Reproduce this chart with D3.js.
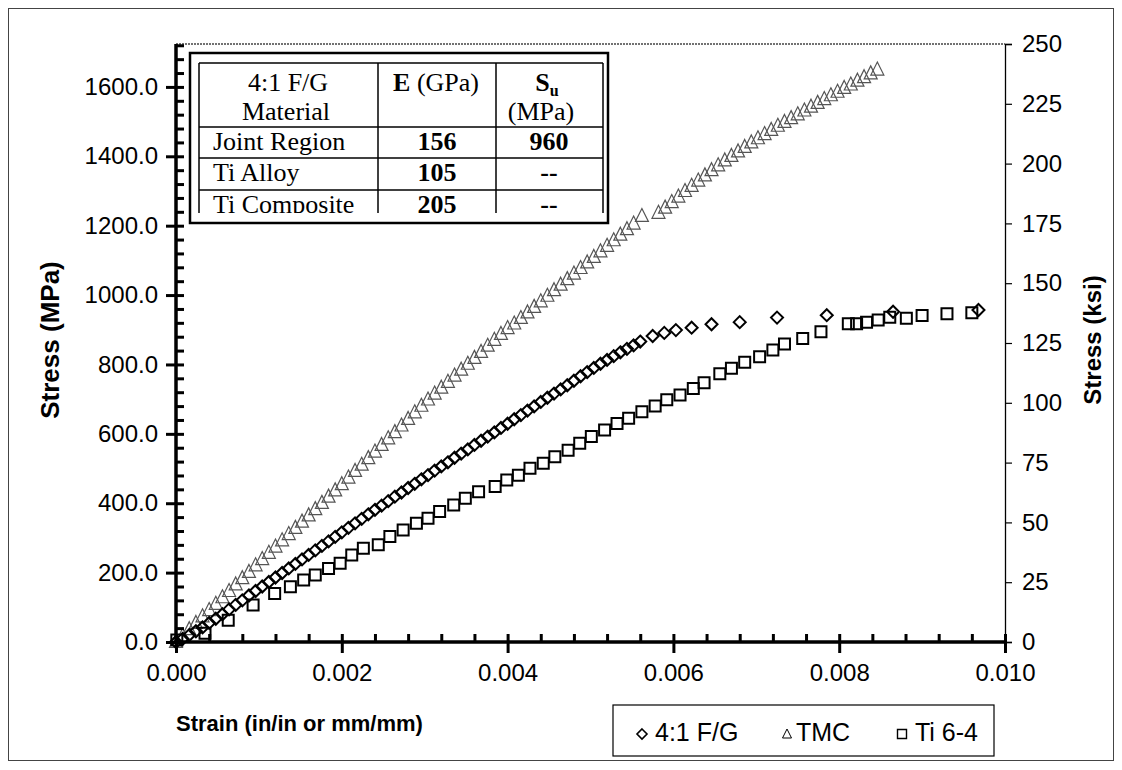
<!DOCTYPE html>
<html><head><meta charset="utf-8">
<script src="https://cdn.jsdelivr.net/npm/d3@7"></script>
<style>body{margin:0;background:#fff}svg{display:block}</style>
</head><body>
<svg id="c" width="1122" height="770"></svg>
<script>
// ---- data (strain in/in, stress MPa) ----
const fgStrain=[0,0.00008,0.00016,0.00024,0.00032,0.00040,0.00048,0.00056,0.00064,0.00072,0.00080,0.00088,0.00096,0.00104,0.00112,0.00120,0.00128,0.00136,0.00144,0.00152,0.00160,0.00168,0.00176,0.00184,0.00192,0.00200,0.00208,0.00216,0.00224,0.00232,0.00240,0.00248,0.00256,0.00264,0.00272,0.00280,0.00288,0.00296,0.00304,0.00312,0.00320,0.00328,0.00336,0.00344,0.00352,0.00360,0.00368,0.00376,0.00384,0.00392,0.00400,0.00408,0.00416,0.00424,0.00432,0.00440,0.00448,0.00456,0.00464,0.00472,0.00480,0.00488,0.00496,0.00504,0.00512,0.00520,0.00528,0.00536,0.00544,0.00552,0.00560,0.00575,0.00589,0.00603,0.00622,0.00646,0.00680,0.00725,0.00785,0.00865,0.00968];
const fgStress=[0,9,20,31,42,55,67,80,94,107,120,134,147,160,173,186,199,212,225,238,251,264,277,290,303,316,329,342,355,368,381,393,406,419,431,444,456,469,481,494,506,518,531,543,555,568,580,592,604,617,629,642,654,667,679,692,704,716,728,740,753,766,778,790,802,813,824,835,845,855,866,882,891,899,906,916,922,935,942,952,957];

const tmcStrain=[0,0.00008,0.00016,0.00024,0.00032,0.00040,0.00048,0.00056,0.00064,0.00072,0.00080,0.00088,0.00096,0.00104,0.00112,0.00120,0.00128,0.00136,0.00144,0.00152,0.00160,0.00168,0.00176,0.00184,0.00192,0.00200,0.00208,0.00216,0.00224,0.00232,0.00240,0.00248,0.00256,0.00264,0.00272,0.00280,0.00288,0.00296,0.00304,0.00312,0.00320,0.00328,0.00336,0.00344,0.00352,0.00360,0.00368,0.00376,0.00384,0.00392,0.00400,0.00408,0.00416,0.00424,0.00432,0.00440,0.00448,0.00456,0.00464,0.00472,0.00480,0.00488,0.00496,0.00504,0.00512,0.00520,0.00528,0.00536,0.00544,0.00552,0.00562,
0.00582,0.00590,0.00598,0.00606,0.00614,0.00622,0.00630,0.00638,0.00646,0.00654,0.00662,0.00670,0.00678,0.00686,0.00694,0.00702,0.00710,0.00718,0.00726,0.00734,0.00742,0.00750,0.00758,0.00766,0.00774,0.00782,0.00790,0.00798,0.00806,0.00814,0.00822,0.00830,0.00838,0.00846];
const tmcStress=[0,18,37,55,74,92,110,129,147,166,184,202,221,239,257,275,293,311,329,347,365,383,401,419,437,455,474,493,511,530,549,568,587,605,624,643,662,681,699,716,733,750,768,785,802,819,836,854,871,888,905,918,934,950,966,982,998,1014,1030,1046,1062,1078,1094,1110,1126,1142,1158,1174,1190,1206,1228,
1237,1252,1268,1284,1300,1315,1330,1345,1360,1374,1388,1401,1414,1427,1440,1452,1464,1476,1488,1499,1510,1521,1532,1543,1554,1565,1576,1586,1597,1607,1618,1628,1639,1650];

const tiStrain=[0.00001,0.00035,0.00063,0.00093,0.00119,0.00138,0.00154,0.00168,0.00184,0.00198,0.00212,0.00226,0.00244,0.00258,0.00274,0.00290,0.00304,0.00318,0.00335,0.00349,0.00365,0.00385,0.00399,0.00413,0.00427,0.00443,0.00457,0.00473,0.00487,0.00501,0.00517,0.00532,0.00546,0.00562,0.00578,0.00592,0.00608,0.00624,0.00637,0.00656,0.00670,0.00686,0.00704,0.00720,0.00734,0.00756,0.00778,0.00811,0.00821,0.00833,0.00847,0.00861,0.00881,0.00900,0.00930,0.00960];
const tiStress=[6,25,63,107,140,159,179,193,212,227,251,270,280,304,323,342,357,376,395,414,433,448,467,481,501,515,534,553,573,592,611,630,645,664,680,698,712,731,747,773,789,806,822,842,859,875,894,917,917,922,928,936,933,941,946,949];

const seriesNames=["4:1 F/G","TMC","Ti 6-4"];
const strainTicks=[0,0.002,0.004,0.006,0.008,0.010];
const mpaTicks=[0,200,400,600,800,1000,1200,1400,1600];
const ksiTicks=[0,25,50,75,100,125,150,175,200,225,250];
const tableHead=[["4:1 F/G","Material"],["E"," (GPa)"],["S","u","(MPa)"]];
const tableRows=[["Joint Region","156","960"],["Ti Alloy","105","--"],["Ti Composite","205","--"]];

// ---- drawing ----
const svg=d3.select("#c");
const SANS="'Liberation Sans', Arial, sans-serif";
const SERIF="'Liberation Serif', 'Times New Roman', serif";
const KSI=6.894757;
const x=d3.scaleLinear().domain([0,0.010]).range([176,1005]);
const y=d3.scaleLinear().domain([0,250*KSI]).range([642,44]);
const yk=d3.scaleLinear().domain([0,250]).range([642,44]);

svg.append("rect").attr("width",1122).attr("height",770).attr("fill","#fff");
svg.append("rect").attr("x",8.5).attr("y",8.5).attr("width",1105).attr("height",752)
  .attr("fill","none").attr("stroke","#444").attr("stroke-width",1);

svg.append("line").attr("x1",x(0)).attr("x2",x(0.01)).attr("y1",y(250*KSI)).attr("y2",y(250*KSI))
  .attr("stroke","#444").attr("stroke-width",1.5).attr("stroke-dasharray","2,1");

const diamond="M0,-6L6,0L0,6L-6,0Z";
const square="M-5.5,-5.5H5.5V5.5H-5.5Z";
const tri="M0,-7.5L6.5,5.5H-6.5Z";

const g=svg.append("g");
g.selectAll("path.tmc").data(d3.range(tmcStrain.length)).join("path").attr("class","tmc")
  .attr("d",tri).attr("transform",i=>`translate(${x(tmcStrain[i])},${y(tmcStress[i])})`)
  .attr("fill","none").attr("stroke","#555").attr("stroke-width",1.2);
g.selectAll("path.ti").data(d3.range(tiStrain.length)).join("path").attr("class","ti")
  .attr("d",square).attr("transform",i=>`translate(${x(tiStrain[i])},${y(tiStress[i])})`)
  .attr("fill","none").attr("stroke","#000").attr("stroke-width",2);
g.selectAll("path.fg").data(d3.range(fgStrain.length)).join("path").attr("class","fg")
  .attr("d",diamond).attr("transform",i=>`translate(${x(fgStrain[i])},${y(fgStress[i])})`)
  .attr("fill","none").attr("stroke","#000").attr("stroke-width",2);

function styleAxis(sel,fs){
  sel.selectAll("text").attr("font-family",SANS).attr("font-size",fs).attr("fill","#000");
}
const la=svg.append("g").attr("transform","translate(176,0)")
  .call(d3.axisLeft(y).tickValues(mpaTicks).tickFormat(d3.format(".1f")).tickSize(10).tickPadding(8));
la.select(".domain").remove();
la.selectAll("line").attr("stroke-width",3);
styleAxis(la,24);
const minorMpa=d3.range(0,1721,40);
const lin=svg.append("g").attr("transform","translate(176,0)")
  .call(d3.axisRight(y).tickValues(minorMpa).tickSize(8).tickFormat(""));
lin.select(".domain").remove();
lin.selectAll("line").attr("stroke-width",3);
svg.append("line").attr("x1",176).attr("x2",176).attr("y1",44).attr("y2",644)
  .attr("stroke","#000").attr("stroke-width",3.5);

const ba=svg.append("g").attr("transform","translate(0,642)")
  .call(d3.axisBottom(x).tickValues(strainTicks).tickFormat(d3.format(".3f")).tickSize(11).tickPadding(11));
ba.select(".domain").remove();
ba.selectAll("line").attr("stroke-width",3);
styleAxis(ba,24);
const minorStrain=d3.range(0,0.01001,0.0004);
const bin=svg.append("g").attr("transform","translate(0,642)")
  .call(d3.axisTop(x).tickValues(minorStrain).tickSize(8).tickFormat(""));
bin.select(".domain").remove();
bin.selectAll("line").attr("stroke-width",3);
svg.append("line").attr("x1",174).attr("x2",1006).attr("y1",642).attr("y2",642)
  .attr("stroke","#000").attr("stroke-width",3.5);

const ra=svg.append("g").attr("transform","translate(1005,0)")
  .call(d3.axisRight(yk).tickValues(ksiTicks).tickSize(7).tickPadding(10));
ra.select(".domain").attr("stroke-width",1.3);
ra.selectAll("line").attr("stroke-width",1.2);
styleAxis(ra,24);

svg.append("text").attr("transform","translate(50,340) rotate(-90)").attr("text-anchor","middle")
  .attr("dominant-baseline","central").attr("font-family",SANS).attr("font-weight","bold")
  .attr("font-size",26).text("Stress (MPa)");
svg.append("text").attr("transform","translate(1092,340) rotate(-90)").attr("text-anchor","middle")
  .attr("dominant-baseline","central").attr("font-family",SANS).attr("font-weight","bold")
  .attr("font-size",24).text("Stress (ksi)");
svg.append("text").attr("x",176).attr("y",731).attr("font-family",SANS).attr("font-weight","bold")
  .attr("font-size",22).text("Strain (in/in or mm/mm)");

const lg=svg.append("g");
lg.append("rect").attr("x",613).attr("y",705).attr("width",381).attr("height",51)
  .attr("fill","#fff").attr("stroke","#000").attr("stroke-width",1.2);
const legItems=[{sym:"M0,-5L5,0L0,5L-5,0Z",sx:642,tx:655,sw:1.6},
                {sym:"M0,-5L4.5,4H-4.5Z",sx:787,tx:796,sw:1},
                {sym:"M-4.5,-4.5H4.5V4.5H-4.5Z",sx:902,tx:915,sw:1.4}];
legItems.forEach((it,i)=>{
  lg.append("path").attr("d",it.sym).attr("transform",`translate(${it.sx},${734})`)
    .attr("fill","none").attr("stroke","#000").attr("stroke-width",it.sw);
  lg.append("text").attr("x",it.tx).attr("y",741).attr("font-family",SANS).attr("font-size",25)
    .text(seriesNames[i]);
});

const tb=svg.append("g");
tb.append("rect").attr("x",190).attr("y",53).attr("width",418).attr("height",170)
  .attr("fill","#fff").attr("stroke","#000").attr("stroke-width",2.5);
const defs=svg.append("defs");
defs.append("clipPath").attr("id","tclip").append("rect").attr("x",196).attr("y",60).attr("width",410).attr("height",153);
const tin=tb.append("g").attr("clip-path","url(#tclip)");
const colX=[199,378,496,603];
const rowY=[63,127,158,190];
tin.append("line").attr("x1",199).attr("x2",603).attr("y1",63).attr("y2",63).attr("stroke","#000").attr("stroke-width",1.5);
rowY.slice(1).forEach(ry=>tin.append("line").attr("x1",199).attr("x2",603).attr("y1",ry).attr("y2",ry).attr("stroke","#000").attr("stroke-width",1.5));
colX.forEach(cx=>tin.append("line").attr("x1",cx).attr("x2",cx).attr("y1",63).attr("y2",213).attr("stroke","#000").attr("stroke-width",1.5));
const FS=26;
function tt(px,py,anchor){return tin.append("text").attr("x",px).attr("y",py).attr("text-anchor",anchor)
  .attr("font-family",SERIF).attr("font-size",FS);}
tt(288,91,"middle").text(tableHead[0][0]);
tt(286,120,"middle").text(tableHead[0][1]);
const e=tt(436,91,"middle");
e.append("tspan").attr("font-weight","bold").text(tableHead[1][0]);
e.append("tspan").text(tableHead[1][1]);
const s=tt(547,91,"middle");
s.append("tspan").attr("font-weight","bold").text(tableHead[2][0]);
s.append("tspan").attr("font-weight","bold").attr("font-size",16).attr("dy",5).text(tableHead[2][1]);
tt(541,120,"middle").text(tableHead[2][2]);
const base=[150,181,213];
tableRows.forEach((r,i)=>{
  tt(213,base[i],"start").text(r[0]);
  tt(437,base[i],"middle").attr("font-weight","bold").text(r[1]);
  tt(549,base[i],"middle").attr("font-weight","bold").text(r[2]);
});
</script>
</body></html>
